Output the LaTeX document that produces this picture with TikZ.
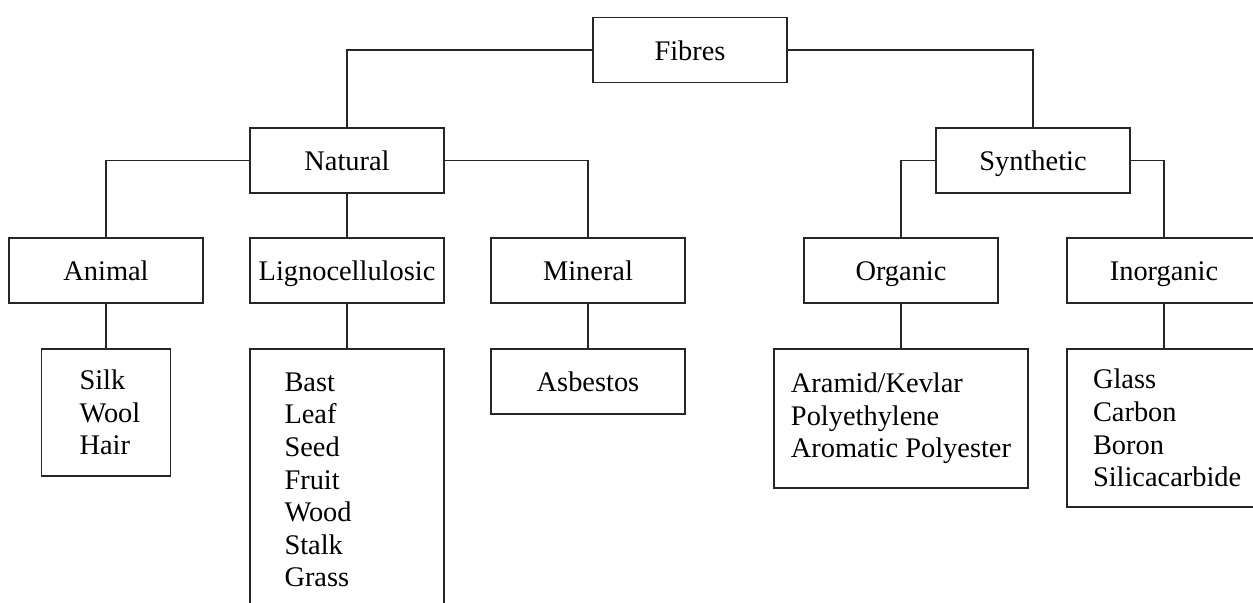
\documentclass[tikz,border=0pt]{standalone}
\usepackage{fontspec}
\setmainfont{Liberation Serif}
\tikzset{
  catbox/.style={draw=black!85, line width=0.8pt, minimum width=97pt, minimum height=32.5pt, inner sep=0pt, text height=12.5pt, text depth=2.5pt},
  listbox/.style={draw=black!85, line width=0.8pt, align=left, inner ysep=0pt},
  link/.style={draw=black!85, line width=0.8pt}
}

\begin{document}
\begin{tikzpicture}[x=0.5pt, y=-0.5pt, font=\fontsize{14.2}{16.3}\selectfont]
  \useasboundingbox (0,0) rectangle (1253,602);
  \clip (0,0) rectangle (1253,602);

  % Categories
  \node[catbox] (fibres) at (690,50) {Fibres};
  \node[catbox] (natural) at (347,160.5) {Natural};
  \node[catbox] (synthetic) at (1033,160.5) {Synthetic};
  \node[catbox] (animal) at (106,270.5) {Animal};
  \node[catbox] (ligno) at (347,270.5) {Lignocellulosic};
  \node[catbox] (mineral) at (588,270.5) {Mineral};
  \node[catbox] (organic) at (901,270.5) {Organic};
  \node[catbox] (inorganic) at (1164,270.5) {Inorganic};

  % Examples
  \node[listbox, text width=26.5pt, inner xsep=19pt, minimum height=63.5pt] (animallist) at (106,412.5) {Silk\\Wool\\Hair};
  \node[listbox, text width=62.5pt, inner xsep=17.25pt, minimum height=131pt] (lignolist) at (347,480) {Bast\\Leaf\\Seed\\Fruit\\Wood\\Stalk\\Grass};
  \node[catbox] (minerallist) at (588,381.5) {Asbestos};
  \node[listbox, minimum width=127pt, minimum height=69.5pt] (organiclist) at (901,418.5) {Aramid/Kevlar\\Polyethylene\\Aromatic Polyester};
  \node[listbox, text width=71pt, inner xsep=13pt, minimum height=79pt] (inorganiclist) at (1164,428) {Glass\\Carbon\\Boron\\Silicacarbide};

  % Links
  \draw[link] (fibres.west) -| (natural.north);
  \draw[link] (fibres.east) -| (synthetic.north);
  \draw[link] (natural.west) -| (animal.north);
  \draw[link] (natural.south) -- (ligno.north);
  \draw[link] (natural.east) -| (mineral.north);
  \draw[link] (synthetic.west) -| (organic.north);
  \draw[link] (synthetic.east) -| (inorganic.north);
  \draw[link] (animal.south) -- (animallist.north);
  \draw[link] (ligno.south) -- (lignolist.north);
  \draw[link] (mineral.south) -- (minerallist.north);
  \draw[link] (organic.south) -- (organiclist.north);
  \draw[link] (inorganic.south) -- (inorganiclist.north);
\end{tikzpicture}
\end{document}
